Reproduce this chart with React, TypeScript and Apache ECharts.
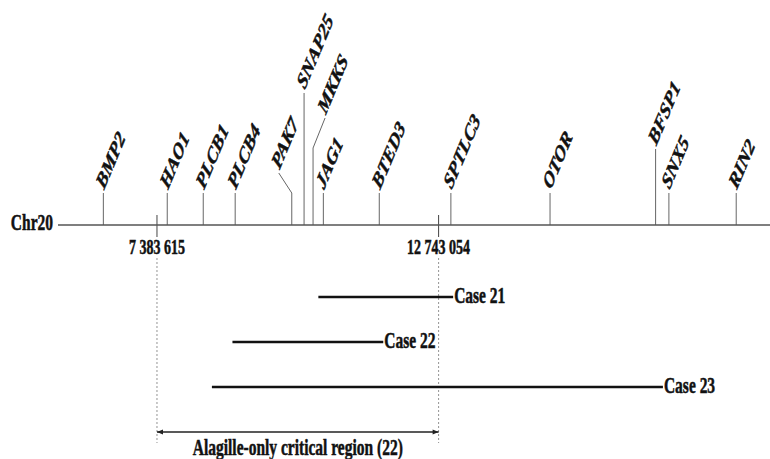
import React, { useEffect, useRef } from "react";
import * as echarts from "echarts";

// ---- data ----
const CHROM = "Chr20";
const CHROM_START = 5500000;
const CHROM_END = 19050000;

const GENES = ["BMP2", "HAO1", "PLCB1", "PLCB4", "PAK7", "SNAP25", "MKKS", "JAG1", "BTED3", "SPTLC3", "OTOR", "BFSP1", "SNX5", "RIN2"];
const GENE_POS = [6363000, 7579000, 8264000, 8872000, 9949000, 10183000, 10354000, 10550000, 11614000, 12977000, 14864000, 16873000, 17126000, 18407000];

const MARKER_POS = [7383615, 12743054];
const MARKER_LABELS = ["7 383 615", "12 743 054"];

const CASES = ["Case 21", "Case 22", "Case 23"];
const CASE_START = [10455000, 8820000, 8429000];
const CASE_END = [13020000, 11690000, 17012000];

const REGION_LABEL = "Alagille-only critical region (22)";

// ---- layout (not data) ----
const STEM: Record<string, number> = { SNAP25: 132, MKKS: 77, BFSP1: 76 };
const ELBOW: Record<string, [number, number]> = { PAK7: [-13, -20], MKKS: [12, -30] };
const CASE_ROW0 = 1.6;
const REGION_ROW = 4.6;
const SY = 1.5;
const FONT = '"Liberation Serif", "Times New Roman", serif';

function hText(x: number, y: number, text: string, size: number, align: string, sy = SY) {
  return {
    type: "group",
    x,
    y,
    scaleY: sy,
    children: [
      {
        type: "text",
        style: {
          text,
          x: 0,
          y: 0,
          fill: "#111",
          stroke: "#111",
          lineWidth: 0.35,
          fontFamily: FONT,
          fontWeight: "bold",
          fontSize: size,
          align,
          verticalAlign: "middle",
        },
      },
    ],
  };
}

export default function App() {
  const ref = useRef<HTMLDivElement>(null);
  useEffect(() => {
    if (!ref.current) return;
    const chart = echarts.init(ref.current, null, { renderer: "svg" });
    const option: any = {
      animation: false,
      backgroundColor: "#fff",
      grid: { left: 58, right: 0, top: 0, bottom: 0 },
      xAxis: { type: "value", min: CHROM_START, max: CHROM_END, show: false },
      yAxis: { type: "value", inverse: true, min: -5, max: 5.2, show: false },
      series: [
        {
          type: "line",
          data: [[CHROM_START, 0], [CHROM_END, 0]],
          symbol: "none",
          lineStyle: { color: "#555", width: 1.5 },
          silent: true,
        },
        {
          type: "custom",
          data: [[CHROM_START, 0]],
          renderItem: (params: any, api: any) => {
            const p = api.coord([api.value(0), api.value(1)]);
            return hText(p[0] - 5, p[1] - 3, CHROM, 15.5, "right");
          },
        },
        {
          type: "custom",
          data: GENE_POS.map((v) => [v, 0]),
          renderItem: (params: any, api: any) => {
            const name = GENES[params.dataIndex];
            const p = api.coord([api.value(0), api.value(1)]);
            const stem = STEM[name] ?? 32;
            const children: any[] = [];
            const topY = p[1] - stem;
            children.push({
              type: "line",
              shape: { x1: p[0], y1: p[1], x2: p[0], y2: topY },
              style: { stroke: "#666", lineWidth: 1 },
            });
            let ax = p[0];
            let ay = topY;
            const el = ELBOW[name];
            if (el) {
              children.push({
                type: "line",
                shape: { x1: p[0], y1: topY, x2: p[0] + el[0], y2: topY + el[1] },
                style: { stroke: "#666", lineWidth: 1 },
              });
              ax = p[0] + el[0];
              ay = topY + el[1];
            }
            children.push({
              type: "group",
              x: ax - 4,
              y: ay - 7,
              scaleY: SY,
              children: [
                {
                  type: "text",
                  rotation: (58 * Math.PI) / 180,
                  style: {
                    text: name,
                    x: 0,
                    y: 0,
                    fill: "#111",
                    stroke: "#111",
                    lineWidth: 0.4,
                    fontFamily: FONT,
                    fontWeight: "bold",
                    fontStyle: "italic",
                    fontSize: 15.5,
                    align: "left",
                    verticalAlign: "middle",
                  },
                },
              ],
            });
            return { type: "group", children };
          },
        },
        {
          type: "custom",
          data: MARKER_POS.map((v) => [v, 0]),
          renderItem: (params: any, api: any) => {
            const p = api.coord([api.value(0), api.value(1)]);
            const r = api.coord([api.value(0), REGION_ROW]);
            return {
              type: "group",
              children: [
                {
                  type: "line",
                  shape: { x1: p[0], y1: p[1] - 10, x2: p[0], y2: p[1] + 12 },
                  style: { stroke: "#444", lineWidth: 1 },
                },
                hText(p[0], p[1] + 21.5, MARKER_LABELS[params.dataIndex], 14, "center", 1.55),
                {
                  type: "line",
                  shape: { x1: p[0], y1: p[1] + 33, x2: p[0], y2: r[1] + 11 },
                  style: { stroke: "#777", lineWidth: 0.8, lineDash: [2, 2] },
                },
              ],
            };
          },
        },
        {
          type: "custom",
          data: CASES.map((c, i) => [CASE_START[i], CASE_END[i], CASE_ROW0 + i]),
          renderItem: (params: any, api: any) => {
            const a = api.coord([api.value(0), api.value(2)]);
            const b = api.coord([api.value(1), api.value(2)]);
            return {
              type: "group",
              children: [
                {
                  type: "line",
                  shape: { x1: a[0], y1: a[1], x2: b[0], y2: b[1] },
                  style: { stroke: "#111", lineWidth: 2.5 },
                },
                hText(b[0] + 1, b[1] - 2, CASES[params.dataIndex], 15.5, "left"),
              ],
            };
          },
        },
        {
          type: "custom",
          data: [[MARKER_POS[0], MARKER_POS[1], REGION_ROW]],
          renderItem: (params: any, api: any) => {
            const a = api.coord([api.value(0), api.value(2)]);
            const b = api.coord([api.value(1), api.value(2)]);
            const ah = 6;
            const aw = 2.5;
            return {
              type: "group",
              children: [
                {
                  type: "line",
                  shape: { x1: a[0], y1: a[1], x2: b[0], y2: b[1] },
                  style: { stroke: "#222", lineWidth: 1.5 },
                },
                {
                  type: "polygon",
                  shape: { points: [[a[0], a[1]], [a[0] + ah, a[1] - aw], [a[0] + ah, a[1] + aw]] },
                  style: { fill: "#222" },
                },
                {
                  type: "polygon",
                  shape: { points: [[b[0], b[1]], [b[0] - ah, b[1] - aw], [b[0] - ah, b[1] + aw]] },
                  style: { fill: "#222" },
                },
                hText((a[0] + b[0]) / 2, a[1] + 15, REGION_LABEL, 15.5, "center"),
              ],
            };
          },
        },
      ],
    };
    chart.setOption(option);
    return () => chart.dispose();
  }, []);
  return (
    <div
      ref={ref}
      style={{ position: "fixed", left: 0, top: 0, width: 770, height: 459, background: "#fff" }}
    />
  );
}
